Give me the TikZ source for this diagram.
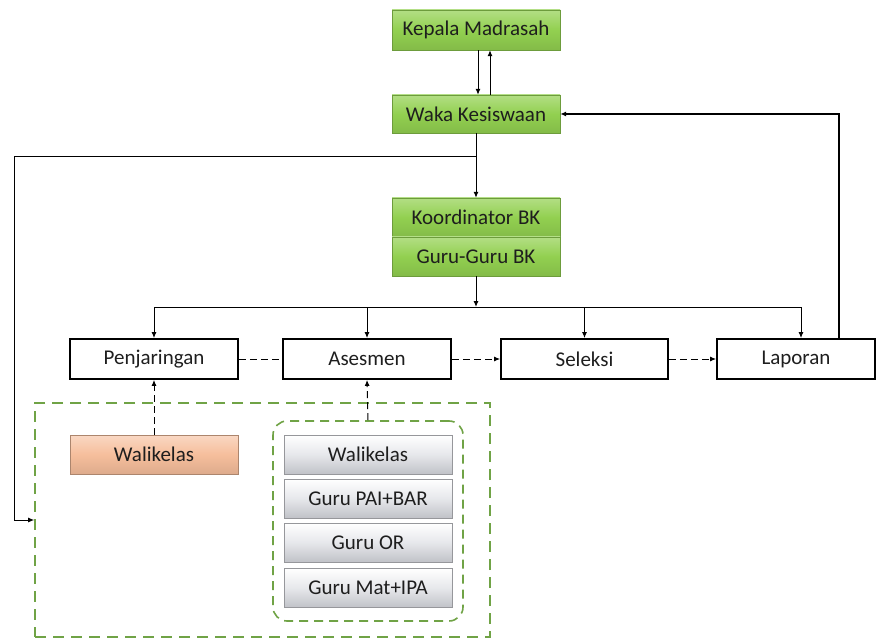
\documentclass[tikz,border=0pt]{standalone}
\usepackage{fontspec}
\setmainfont{Carlito}
\usepackage{tikz}
\usetikzlibrary{arrows.meta}

\definecolor{kgreen}{RGB}{146,208,80}
\definecolor{kframe}{RGB}{112,163,70}
\definecolor{korange}{RGB}{246,190,156}
\definecolor{kgrey}{RGB}{214,216,222}
\definecolor{ktext}{RGB}{30,30,30}

\tikzset{
    greenbox/.style={draw=kgreen!75!black, line width=0.4pt, top color=kgreen!70!white, bottom color=kgreen!90!black, middle color=kgreen, minimum width=168pt, inner sep=0pt},
    greybox/.style={draw=kgrey!70!black, line width=0.4pt, top color=white, bottom color=kgrey!90!black, middle color=kgrey!60!white, minimum width=168pt, minimum height=39pt, inner sep=0pt},
    orangebox/.style={draw=korange!70!black, line width=0.4pt, top color=korange!60!white, bottom color=korange!90!black, middle color=korange, minimum width=168pt, minimum height=39pt, inner sep=0pt},
    stagebox/.style={draw, line width=1.8pt, fill=white, minimum height=40pt, inner sep=0pt},
    framebox/.style={draw=kframe, line width=1.6pt, dash pattern=on 11pt off 7pt, inner sep=0pt},
    dashline/.style={line width=1pt, dash pattern=on 7pt off 4pt}
}

\begin{document}
\begin{tikzpicture}[x=1pt, y=-1pt, font=\fontsize{21}{24}\selectfont, text=ktext, >={Latex[length=6pt,width=5pt]}]
    \useasboundingbox (0,0) rectangle (878,639);

    % top of the chart
    \node [greenbox, minimum height=40pt] (kepala) at (476,30)  {Kepala Madrasah};
    \node [greenbox, minimum height=38pt] (waka)   at (476,114) {Waka Kesiswaan};
    \node [greenbox, minimum height=39pt] (koord)  at (476,217.5) {Koordinator BK};
    \node [greenbox, minimum height=39pt] (gurubk) at (476,256.5) {Guru-Guru BK};

    % stages
    \node [stagebox, minimum width=168pt] (penj)  at (154,359)   {Penjaringan};
    \node [stagebox, minimum width=168pt] (ases)  at (367,359)   {Asesmen};
    \node [stagebox, minimum width=167pt] (sel)   at (584.5,359) {Seleksi};
    \node [stagebox, minimum width=158pt] (lap)   at (796,359)   {Laporan};

    % teams
    \node [framebox, minimum width=455pt, minimum height=234pt] (tim) at (262.5,520) {};
    \node [framebox, dash pattern=on 9pt off 6pt, rounded corners=14pt, minimum width=190pt, minimum height=200pt] (guru) at (368,521) {};
    \node [orangebox] (wali) at (154,454.5) {Walikelas};
    \node [greybox] (g1) at (368,454.5) {Walikelas};
    \node [greybox] (g2) at (368,498.5) {Guru PAI+BAR};
    \node [greybox] (g3) at (368,542.5) {Guru OR};
    \node [greybox] (g4) at (368,588)   {Guru Mat+IPA};

    \coordinate (bend) at (14,157);
    \coordinate (bus)  at (476,307);

    % connectors
    \draw [->, line width=1pt] ([xshift=2pt]kepala.south) -- ([xshift=2pt]waka.north);
    \draw [->, line width=1pt] ([xshift=14pt]waka.north) -- ([xshift=14pt]kepala.south);
    \draw [->, line width=1pt] (waka.south) -- (koord.north);
    \draw [->, line width=1pt] (waka.south |- bend) -- (bend) |- (tim.west);
    \draw [->, line width=1pt] (gurubk.south) -- (bus);
    \draw [line width=1pt] (penj.north |- bus) -- ([xshift=5pt]lap.north |- bus);
    \foreach \s in {penj,ases,sel}{%
        \draw [->, line width=1pt] (\s.north |- bus) -- (\s.north);}
    \draw [->, line width=1pt] ([xshift=5pt]lap.north |- bus) -- ([xshift=5pt]lap.north);
    \draw [->, line width=2pt] ([xshift=43pt]lap.north) |- (waka.east);

    \draw [dashline] (penj.east) -- (ases.west);
    \draw [->, dashline] (ases.east) -- (sel.west);
    \draw [->, dashline] (sel.east) -- (lap.west);
    \draw [->, dashline] (wali.north) -- (penj.south);
    \draw [->, dashline] (guru.north) -- (ases.south);
\end{tikzpicture}
\end{document}
